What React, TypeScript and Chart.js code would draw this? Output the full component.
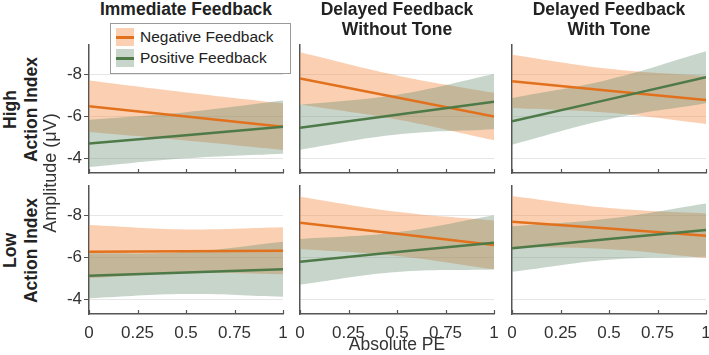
import React, { useEffect, useRef } from 'react';
import { Chart, registerables } from 'chart.js';

Chart.register(...registerables);

// ---- data ----
const xValues = [0, 0.5, 1];
const xTicks = [0, 0.25, 0.5, 0.75, 1];
const xTickLabels = ['0', '0.25', '0.5', '0.75', '1'];
const yTicks = [-8, -6, -4];
const yTickLabels = ['-8', '-6', '-4'];
const yMin = -9.4;
const yMax = -3.3;

const columnTitles = [
  ['Immediate Feedback'],
  ['Delayed Feedback', 'Without Tone'],
  ['Delayed Feedback', 'With Tone'],
];
const rowTitles = [
  ['High', 'Action Index'],
  ['Low', 'Action Index'],
];
const seriesNames = ['Negative Feedback', 'Positive Feedback'];
const yAxisTitle = 'Amplitude (μV)';
const xAxisTitle = 'Absolute PE';

// panels: high row (immediate, delayed w/o tone, delayed with tone), then low row
const negMean = [
  [-6.48, -5.99, -5.5],
  [-7.81, -6.9, -5.99],
  [-7.67, -7.22, -6.78],
  [-6.27, -6.29, -6.31],
  [-7.65, -7.12, -6.59],
  [-7.7, -7.37, -7.03],
];
const negUpper = [
  [-7.71, -7.14, -6.62],
  [-9.05, -7.95, -7.12],
  [-8.94, -8.27, -7.92],
  [-7.54, -7.33, -7.43],
  [-8.89, -8.17, -7.75],
  [-8.92, -8.35, -8.09],
];
const negLower = [
  [-5.25, -4.85, -4.4],
  [-6.57, -5.85, -4.86],
  [-6.4, -6.17, -5.64],
  [-5.0, -5.25, -5.19],
  [-6.4, -6.07, -5.43],
  [-6.48, -6.39, -5.97],
];
const posMean = [
  [-4.7, -5.1, -5.5],
  [-5.46, -6.08, -6.7],
  [-5.76, -6.81, -7.86],
  [-5.12, -5.28, -5.43],
  [-5.79, -6.25, -6.7],
  [-6.43, -6.87, -7.3],
];
const posUpper = [
  [-5.84, -6.2, -6.75],
  [-6.55, -7.03, -8.02],
  [-6.88, -7.76, -9.1],
  [-6.19, -6.25, -6.74],
  [-6.88, -7.2, -8.01],
  [-7.48, -7.85, -8.57],
];
const posLower = [
  [-3.58, -4.0, -4.22],
  [-4.41, -5.13, -5.38],
  [-4.65, -5.86, -6.62],
  [-4.05, -4.25, -4.12],
  [-4.7, -5.3, -5.42],
  [-5.31, -5.89, -6.03],
];

// ---- styling ----
const FONT = "'Liberation Sans', Arial, Helvetica, sans-serif";
const negLine = '#E2711D';
const negFill = 'rgba(246,150,85,0.45)';
const posLine = '#4E7A48';
const posFill = 'rgba(95,135,105,0.35)';
const axisColor = '#555555';
const gridColor = '#e6e6e6';
const textColor = '#333333';

const colLeft = [89, 300, 512];
const colRight = [283, 494, 706];
const rowTop = [45, 186];
const plotH = 128;
const padTop = 4;
const padRight = 10;

Chart.defaults.font.family = FONT;

const toPoints = (ys: number[]) => xValues.map((x, i) => ({ x, y: ys[i] }));

// x tick marks point into the plot area
const inwardXTicks = {
  id: 'inwardXTicks',
  afterDraw(chart: any) {
    const { ctx, chartArea } = chart;
    const xs = chart.scales.x;
    ctx.save();
    ctx.strokeStyle = axisColor;
    ctx.lineWidth = 1.2;
    xTicks.forEach((v) => {
      const px = Math.round(xs.getPixelForValue(v)) + 0.5;
      ctx.beginPath();
      ctx.moveTo(px, chartArea.bottom);
      ctx.lineTo(px, chartArea.bottom - 4);
      ctx.stroke();
    });
    ctx.restore();
  },
};

function Panel({ row, col }: { row: number; col: number }) {
  const ref = useRef<HTMLCanvasElement>(null);
  const idx = row * 3 + col;
  const showY = col === 0;
  const showX = row === 1;
  const yAxisW = showY ? 45 : 8;
  const xAxisH = showX ? 30 : 4;
  const left = colLeft[col] - yAxisW;
  const top = rowTop[row] - padTop;
  const width = colRight[col] - colLeft[col] + yAxisW + padRight;
  const height = padTop + plotH + xAxisH;

  useEffect(() => {
    if (!ref.current) return;
    const band = { pointRadius: 0, borderWidth: 0, borderColor: 'transparent', tension: 0.4 };
    const chart = new Chart(ref.current, {
      type: 'line',
      data: {
        datasets: [
          { ...band, data: toPoints(negUpper[idx]), backgroundColor: negFill, fill: '+1', order: 4 },
          { ...band, data: toPoints(negLower[idx]), fill: false, order: 4 },
          { ...band, data: toPoints(posUpper[idx]), backgroundColor: posFill, fill: '+1', order: 3 },
          { ...band, data: toPoints(posLower[idx]), fill: false, order: 3 },
          { label: seriesNames[0], data: toPoints(negMean[idx]), borderColor: negLine, borderWidth: 2.5, pointRadius: 0, fill: false, order: 2 },
          { label: seriesNames[1], data: toPoints(posMean[idx]), borderColor: posLine, borderWidth: 2.5, pointRadius: 0, fill: false, order: 1 },
        ],
      } as any,
      options: {
        animation: false,
        responsive: false,
        layout: { padding: { top: padTop, right: padRight, left: 0, bottom: 0 } },
        plugins: { legend: { display: false }, tooltip: { enabled: false } },
        scales: {
          x: {
            type: 'linear',
            min: 0,
            max: 1,
            afterBuildTicks: (s: any) => {
              s.ticks = xTicks.map((v) => ({ value: v }));
            },
            afterFit: (s: any) => {
              s.height = xAxisH;
              s.paddingLeft = 0;
              s.paddingRight = 0;
            },
            ticks: {
              display: showX,
              autoSkip: false,
              maxRotation: 0,
              padding: 1,
              color: textColor,
              font: { size: 17, family: FONT },
              callback: (_v: any, i: number) => xTickLabels[i],
            },
            grid: { display: false },
            border: { display: true, color: axisColor, width: 1.5 },
          },
          y: {
            type: 'linear',
            reverse: true,
            min: yMin,
            max: yMax,
            afterBuildTicks: (s: any) => {
              s.ticks = yTicks.map((v) => ({ value: v }));
            },
            afterFit: (s: any) => {
              s.width = yAxisW;
              s.paddingTop = 0;
              s.paddingBottom = 0;
            },
            ticks: {
              display: showY,
              padding: 2,
              color: textColor,
              font: { size: 17, family: FONT },
              callback: (_v: any, i: number) => yTickLabels[i],
            },
            grid: {
              color: gridColor,
              lineWidth: 1,
              drawTicks: showY,
              tickLength: 5,
              tickColor: axisColor,
            },
            border: { display: true, color: axisColor, width: 1.5 },
          },
        },
      } as any,
      plugins: [inwardXTicks],
    });
    return () => chart.destroy();
  }, []);

  return (
    <canvas
      ref={ref}
      width={width}
      height={height}
      style={{ position: 'absolute', left, top, width, height }}
    />
  );
}

function LegendItem({ line, fill, label, top }: { line: string; fill: string; label: string; top: number }) {
  return (
    <div style={{ position: 'absolute', left: 5, top, height: 18, display: 'flex', alignItems: 'center' }}>
      <div style={{ position: 'relative', width: 18, height: 18, background: fill }}>
        <div style={{ position: 'absolute', left: 0, right: 0, top: 8, height: 2.5, background: line }} />
      </div>
      <span style={{ marginLeft: 6, fontSize: 15.5, color: '#222', whiteSpace: 'nowrap' }}>{label}</span>
    </div>
  );
}

export default function App() {
  const panels = [];
  for (let r = 0; r < 2; r++) for (let c = 0; c < 3; c++) panels.push(<Panel key={`${r}-${c}`} row={r} col={c} />);

  return (
    <div
      style={{
        position: 'fixed',
        left: 0,
        top: 0,
        width: 709,
        height: 355,
        overflow: 'hidden',
        background: '#fff',
        fontFamily: FONT,
      }}
    >
      {panels}

      {columnTitles.map((lines, c) => {
        const cx = (colLeft[c] + colRight[c]) / 2;
        return (
          <div
            key={`t${c}`}
            style={{
              position: 'absolute',
              left: cx - 110,
              width: 220,
              top: -1.4,
              textAlign: 'center',
              fontWeight: 'bold',
              fontSize: 17.5,
              lineHeight: '20.5px',
              color: '#222',
            }}
          >
            {lines.map((l, i) => (
              <div key={i}>{l}</div>
            ))}
          </div>
        );
      })}

      {rowTitles.map((lines, r) => {
        const cy = rowTop[r] + plotH / 2;
        const w = 140;
        const h = 41;
        return (
          <div
            key={`r${r}`}
            style={{
              position: 'absolute',
              left: 20.4 - w / 2,
              top: cy - h / 2,
              width: w,
              height: h,
              transform: 'rotate(-90deg)',
              textAlign: 'center',
              fontWeight: 'bold',
              fontSize: 17.5,
              lineHeight: '20.5px',
              color: '#222',
            }}
          >
            {lines.map((l, i) => (
              <div key={i}>{l}</div>
            ))}
          </div>
        );
      })}

      <div
        style={{
          position: 'absolute',
          left: 50 - 90,
          top: 173 - 11,
          width: 180,
          height: 22,
          lineHeight: '22px',
          transform: 'rotate(-90deg)',
          textAlign: 'center',
          fontSize: 18,
          color: textColor,
          whiteSpace: 'nowrap',
        }}
      >
        {yAxisTitle}
      </div>

      <div
        style={{
          position: 'absolute',
          left: 397 - 100,
          width: 200,
          top: 333,
          textAlign: 'center',
          fontSize: 17.5,
          lineHeight: '22px',
          color: textColor,
        }}
      >
        {xAxisTitle}
      </div>

      <div
        style={{
          position: 'absolute',
          left: 110,
          top: 23,
          width: 179,
          height: 49,
          background: '#fff',
          border: '1px solid #9a9a9a',
        }}
      >
        <LegendItem line={negLine} fill={negFill} label={seriesNames[0]} top={4} />
        <LegendItem line={posLine} fill={posFill} label={seriesNames[1]} top={25} />
      </div>
    </div>
  );
}
